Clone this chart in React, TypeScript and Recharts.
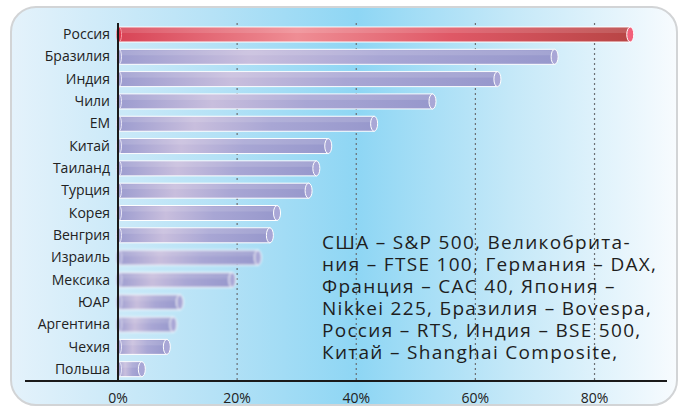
import { Bar, BarChart, CartesianGrid, XAxis, YAxis } from "recharts"

const countries = [
  "Россия", "Бразилия", "Индия", "Чили", "EM", "Китай", "Таиланд", "Турция",
  "Корея", "Венгрия", "Израиль", "Мексика", "ЮАР", "Аргентина", "Чехия", "Польша",
]
const growth = [86, 73.3, 63.7, 52.8, 43, 35.3, 33.3, 32, 26.7, 25.5, 23.5, 19.2, 10.4, 9.3, 8.2, 4]
const xTicks = [0, 20, 40, 60, 80]
const noteLines = [
  "США – S&P 500, Великобрита-",
  "ния – FTSE 100, Германия – DAX,",
  "Франция – CAC 40, Япония –",
  "Nikkei 225, Бразилия – Bovespa,",
  "Россия – RTS, Индия – BSE 500,",
  "Китай – Shanghai Composite,",
]

// bars that look smudged in the original
const blurred = new Set(["Израиль", "Мексика", "ЮАР", "Аргентина"])

const data = countries.map((name, i) => ({ name, value: growth[i] }))

// cylinder-like bar with an ellipse cap at the right end
const Tube = (props: any) => {
  const { x, y, width, height, payload } = props
  const red = payload.name === "Россия"
  const cy = y + height / 2
  return (
    <g filter={blurred.has(payload.name) ? "url(#soft)" : undefined}>
      <rect
        x={x}
        y={y}
        width={width}
        height={height}
        fill={red ? "url(#redTube)" : "url(#blueTube)"}
        stroke="#ffffff"
        strokeWidth={1}
      />
      <rect x={x} y={y + 1} width={width} height={height / 3} fill="#ffffff" opacity={0.12} />
      <ellipse cx={x + 1} cy={cy} rx={2.5} ry={height / 2} fill={red ? "#e03048" : "#a3a2d3"} stroke={red ? "#f7a0a8" : "#e8e6f6"} strokeWidth={1} />
      <ellipse cx={x + width} cy={cy} rx={3.5} ry={height / 2} fill={red ? "#f2607a" : "#a9a7d6"} stroke="#ffffff" strokeWidth={1} />
    </g>
  )
}

export default function App() {
  return (
    <div style={{ position: "absolute", left: 0, top: 0, width: 678, height: 408, background: "#ffffff", overflow: "hidden" }}>
      <div
        style={{
          position: "absolute",
          left: 10,
          top: 6,
          width: 664,
          height: 396,
          borderRadius: 26,
          border: "2px solid #d2d4d6",
          background: "linear-gradient(to right, #e4f2fb 0%, #b6e2f6 30%, #8ed6f4 52%, #c4e8f8 75%, #f7fbfe 100%)",
        }}
      />
      <div style={{ position: "absolute", left: 0, top: 0 }}>
        <BarChart
          width={678}
          height={408}
          data={data}
          layout="vertical"
          margin={{ top: 23, right: 12, bottom: 4, left: 0 }}
          barSize={15}
        >
          <defs>
            <linearGradient id="blueTube" x1="0" y1="0" x2="1" y2="0">
              <stop offset="0%" stopColor="#9c9ccf" />
              <stop offset="30%" stopColor="#c8bedd" />
              <stop offset="60%" stopColor="#a8a6d4" />
              <stop offset="100%" stopColor="#9798cc" />
            </linearGradient>
            <linearGradient id="redTube" x1="0" y1="0" x2="1" y2="0">
              <stop offset="0%" stopColor="#d84456" />
              <stop offset="35%" stopColor="#ef8d94" />
              <stop offset="65%" stopColor="#df5866" />
              <stop offset="100%" stopColor="#b84545" />
            </linearGradient>
            <filter id="soft" x="-5%" y="-30%" width="110%" height="160%">
              <feGaussianBlur stdDeviation="1.2" />
            </filter>
          </defs>
          <CartesianGrid
            horizontal={false}
            verticalValues={xTicks}
            stroke="#6b6f73"
            strokeDasharray="2 3"
            strokeWidth={1.2}
          />
          <XAxis
            type="number"
            domain={[0, 92]}
            ticks={xTicks}
            height={24}
            tickFormatter={(v) => `${v}%`}
            axisLine={false}
            tickLine={false}
            tick={{ fill: "#222", fontSize: 14, fontFamily: "Open Sans" }}
            tickMargin={7}
          />
          <YAxis
            type="category"
            dataKey="name"
            width={118}
            axisLine={{ stroke: "#1a1a1a", strokeWidth: 2 }}
            tickLine={false}
            interval={0}
            tick={{ fill: "#222", fontSize: 14, fontFamily: "Open Sans" }}
          />
          <Bar dataKey="value" shape={Tube} isAnimationActive={false} />
        </BarChart>
      </div>
      <div style={{ position: "absolute", left: 25, top: 380, width: 642, height: 2, background: "#1a1a1a" }} />
      <div
        style={{
          position: "absolute",
          left: 322,
          top: 231,
          fontFamily: "Open Sans",
          fontSize: 19,
          lineHeight: "22px",
          color: "#1e1e1e",
          letterSpacing: 1.3,
          whiteSpace: "nowrap",
        }}
      >
        {noteLines.map((l) => (
          <div key={l}>{l}</div>
        ))}
      </div>
    </div>
  )
}
